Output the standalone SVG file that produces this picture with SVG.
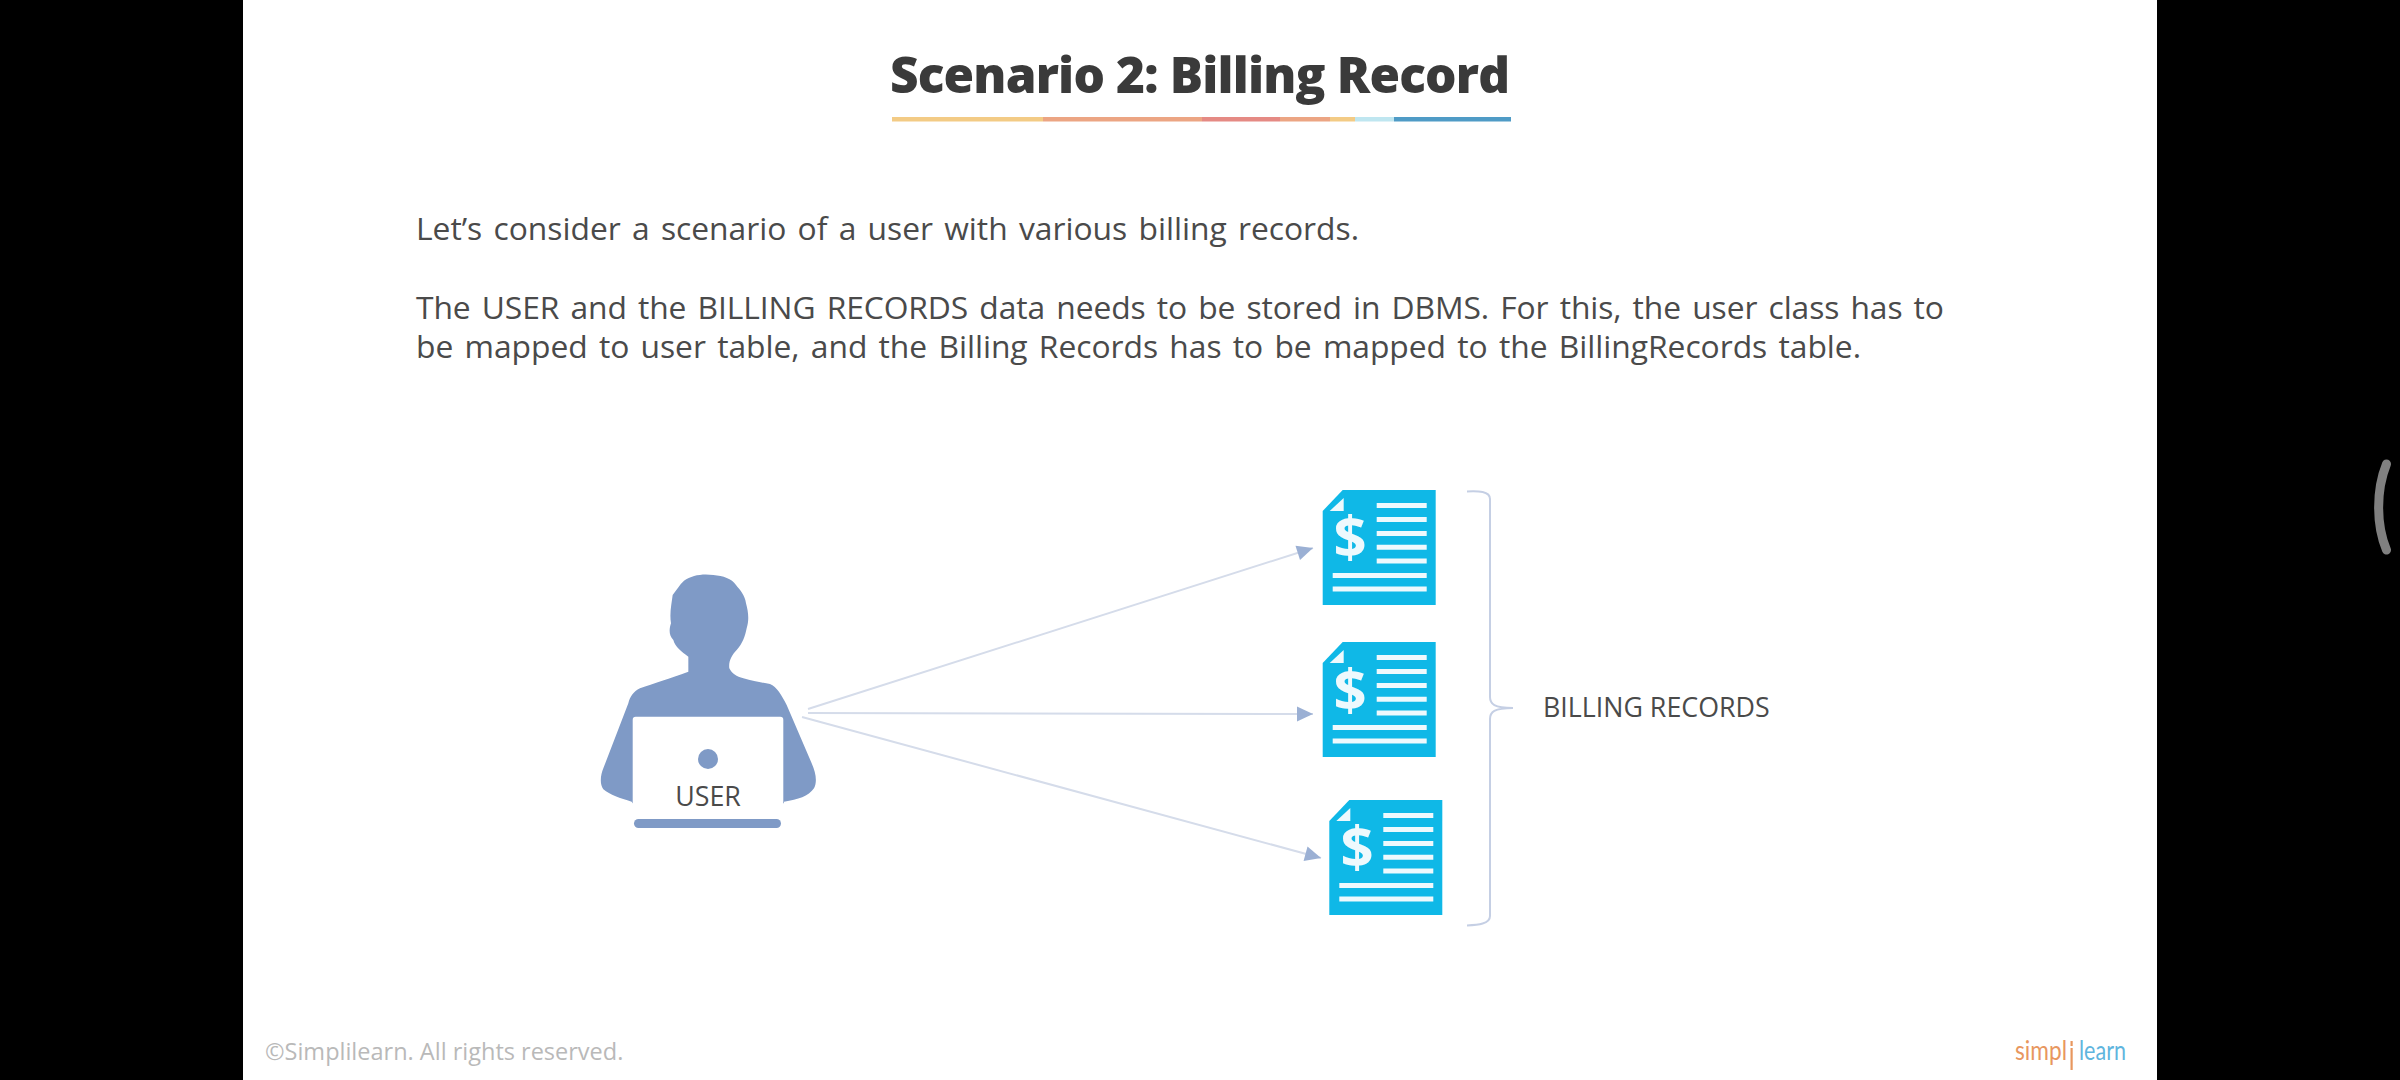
<svg xmlns="http://www.w3.org/2000/svg" width="2400" height="1080" viewBox="0 0 2400 1080">
<style>
text{font-family:"Open Sans","Noto Sans","Liberation Sans",sans-serif}
.title{font-size:49.500px;font-weight:800;fill:#3a3a3a}
.body{font-size:31.800px;fill:#4a4a4a;word-spacing:3px}
.label{font-size:26.800px;fill:#4a4a4a}
.foot{font-size:23.500px;fill:#b9b9b9}
.doc{fill:#0fb8e7}
.w{fill:#eef9fd}
.dl{stroke:#eef9fd;stroke-width:5;fill:none}
.dollar{font-size:58px;font-weight:700;fill:#eef9fd;text-anchor:middle}
.conn{stroke:#d5dcea;stroke-width:2;fill:none;marker-end:url(#ah)}
.user{fill:#7f9ac6}
.logo{font-family:Lato,"Open Sans",sans-serif;font-size:27px}
</style>
<defs>
<marker id="ah" markerUnits="userSpaceOnUse" markerWidth="18" markerHeight="18" refX="17" refY="9" orient="auto"><path d="M1 1.500 L17 9 L1 16.500 Z" fill="#9bb0d4"/></marker>
<g id="docbody">
<polygon class="doc" points="0,21 20,0 113,0 113,115 0,115"/>
<polygon class="w" points="7,21 21,8 21,21"/>
<path class="dl" d="M54 15.500H104M54 29.500H104M54 43.500H104M54 57.200H104M54 71H104M10 85.500H104M10 99H104"/>
</g>
</defs>
<rect width="2400" height="1080" fill="#000"/>
<rect x="243" y="0" width="1914" height="1080" fill="#fff"/>
<g id="title">
<text class="title" x="890" y="93" textLength="620" lengthAdjust="spacing">Scenario 2: Billing Record</text>
<rect x="892" y="117" width="151" height="4.500" fill="#f3cb85"/>
<rect x="1043" y="117" width="159" height="4.500" fill="#eca583"/>
<rect x="1202" y="117" width="78" height="4.500" fill="#e58a84"/>
<rect x="1280" y="117" width="50" height="4.500" fill="#eca583"/>
<rect x="1330" y="117" width="25" height="4.500" fill="#f3cb85"/>
<rect x="1355" y="117" width="39" height="4.500" fill="#bfe6f0"/>
<rect x="1394" y="117" width="117" height="4.500" fill="#4f9bc6"/>
</g>
<g id="body-text">
<text class="body" x="416" y="240" textLength="943" lengthAdjust="spacing">Let’s consider a scenario of a user with various billing records.</text>
<text class="body" x="416" y="319" textLength="1528" lengthAdjust="spacing">The USER and the BILLING RECORDS data needs to be stored in DBMS. For this, the user class has to</text>
<text class="body" x="416" y="358" textLength="1445" lengthAdjust="spacing">be mapped to user table, and the Billing Records has to be mapped to the BillingRecords table.</text>
</g>
<g id="connectors">
<line class="conn" x1="808" y1="709" x2="1313" y2="548"/>
<line class="conn" x1="808" y1="713" x2="1313" y2="714"/>
<line class="conn" x1="802" y1="717" x2="1321" y2="858"/>
</g>
<g id="user">
<path class="user" transform="translate(560 540) scale(.33333)" d="M385 350 C365 335 345 320 340 300 C325 285 328 265 333 250 C328 220 335 190 338 165 C350 150 358 135 372 122 C395 105 430 100 460 105 C490 108 515 115 528 135 C540 150 555 165 558 190 C565 215 568 240 560 265 C555 290 548 310 530 330 C515 345 505 365 508 385 C515 400 530 410 550 415 C580 424 610 428 630 432 C650 440 665 465 680 495 L755 670 C768 700 772 725 762 745 C745 770 715 778 672 785 L672 790 L218 790 L215 785 C180 775 150 765 130 748 C118 730 122 705 130 685 L205 490 C210 470 220 455 240 445 C280 430 330 415 385 395 Z"/>
<rect x="632.700" y="716.700" width="150.600" height="108" rx="3" fill="#fff"/>
<circle class="user" cx="708" cy="759" r="10"/>
<rect class="user" x="634" y="819" width="147" height="9" rx="4.500"/>
<text class="label" x="708" y="806" text-anchor="middle">USER</text>
</g>
<g id="doc1">
<use href="#docbody" x="1322.700" y="490"/>
<text class="dollar" x="1350" y="558">$</text>
</g>
<g id="doc2">
<use href="#docbody" x="1322.700" y="642"/>
<text class="dollar" x="1350" y="711">$</text>
</g>
<g id="doc3">
<use href="#docbody" x="1329.300" y="800"/>
<text class="dollar" x="1357" y="868">$</text>
</g>
<g id="billing-records">
<path d="M1467 491.500 C1478 491 1490 491 1490 499 V697 C1490 704 1494 708 1513 708 C1494 708 1490 712 1490 719 V916 C1490 924 1478 925 1467 925.500" fill="none" stroke="#c5cfe4" stroke-width="2"/>
<text class="label" x="1543" y="717">BILLING RECORDS</text>
</g>
<g id="footer">
<text class="foot" x="265" y="1060">©Simplilearn. All rights reserved.</text>
</g>
<g id="logo">
<text class="logo" x="2015" y="1060" fill="#e8975f" textLength="52" lengthAdjust="spacingAndGlyphs">simpl</text>
<rect x="2070.500" y="1041" width="2.200" height="5" fill="#e8975f"/>
<rect x="2070.500" y="1048" width="2.200" height="22" fill="#e8975f"/>
<text class="logo" x="2079" y="1060" fill="#5fb5de" textLength="47" lengthAdjust="spacingAndGlyphs">learn</text>
</g>
<path id="scroll-indicator" d="M2386.500 464 C2376 490 2376 525 2386.500 550" fill="none" stroke="#808080" stroke-width="9" stroke-linecap="round"/>
</svg>
